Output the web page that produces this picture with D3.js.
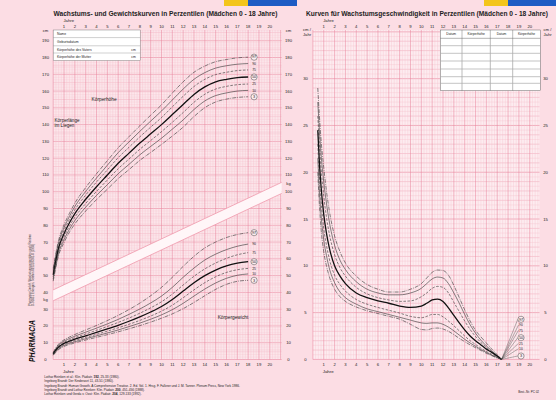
<!DOCTYPE html>
<html><head><meta charset="utf-8">
<script src="https://cdn.jsdelivr.net/npm/d3@7"></script>
<style>
body{margin:0;background:#fcdde4;}
svg{display:block;font-family:"Liberation Sans",Arial,sans-serif;}
</style>
</head><body>
<svg id="c" width="556" height="400"></svg>
<script>
// ---------- data ----------
const ages = [0,0.5,1,1.5,2,3,4,5,6,7,8,9,10,11,12,13,14,15,16,17,18];
const percentiles = ["97","90","75","50","25","10","3"];
const circled = ["97","50","3"];

const height97 = [54.3,71.0,80.3,87.1,93.2,102.5,110.7,118.5,126.2,132.8,139.3,145.6,151.8,158.8,165.5,171.2,174.9,177.5,178.8,179.8,180.2];
const height90 = [53.1,69.6,78.6,85.3,91.2,100.2,108.2,115.8,123.3,129.7,136.0,142.1,148.1,154.7,161.2,167.0,171.0,173.7,175.1,176.0,176.4];
const height75 = [51.9,68.1,76.9,83.5,89.2,98.0,105.8,113.0,120.3,126.5,132.7,138.5,144.2,150.6,156.9,162.7,167.0,169.8,171.2,172.2,172.6];
const height50 = [50.5,66.5,75.0,81.5,87.0,95.5,103.0,110.0,117.0,123.0,129.0,134.5,140.0,146.0,152.0,158.0,162.5,165.5,167.0,168.0,168.4];
const height25 = [49.2,64.9,73.1,79.5,84.8,93.0,100.2,107.0,113.7,119.5,125.3,130.5,135.8,141.4,147.2,153.3,158.1,161.2,162.8,163.8,164.2];
const height10 = [47.9,63.4,71.4,77.7,82.8,90.8,97.8,104.2,110.7,116.3,122.0,127.0,131.9,137.3,142.8,149.0,154.1,157.3,158.9,160.0,160.4];
const height3  = [46.7,62.0,69.7,75.9,80.8,88.5,95.3,101.5,107.8,113.2,118.7,123.4,128.2,133.2,138.5,144.8,150.1,153.5,155.2,156.2,156.6];

const weight97 = [4.3,9.2,11.7,13.4,14.9,17.6,20.3,23.2,26.3,29.8,33.6,38.0,43.0,49.0,55.5,61.5,66.5,70.0,72.7,74.5,75.6];
const weight90 = [4.0,8.6,11.0,12.5,13.9,16.3,18.7,21.2,23.9,26.9,30.1,33.7,37.8,43.0,49.0,54.5,59.3,62.8,65.5,67.5,68.8];
const weight75 = [3.7,8.0,10.3,11.7,13.0,15.2,17.4,19.7,22.1,24.7,27.6,30.8,34.4,39.0,44.4,49.6,54.0,57.5,60.3,62.4,63.7];
const weight50 = [3.4,7.4,9.6,10.9,12.1,14.1,16.1,18.2,20.4,22.8,25.4,28.3,31.6,35.8,40.8,45.8,50.0,53.3,55.8,57.4,58.3];
const weight25 = [3.1,6.9,9.0,10.2,11.3,13.2,15.0,16.9,18.9,21.0,23.3,25.9,28.8,32.4,36.8,41.5,45.8,49.3,51.9,53.5,54.3];
const weight10 = [2.8,6.4,8.4,9.6,10.6,12.4,14.1,15.8,17.6,19.6,21.7,24.0,26.6,29.7,33.5,37.8,42.0,45.6,48.4,50.2,51.0];
const weight3  = [2.5,5.9,7.8,8.9,9.9,11.6,13.2,14.8,16.5,18.3,20.2,22.3,24.6,27.2,30.3,34.0,38.0,41.8,44.8,46.6,47.2];

const velAges = [0.45,0.6,0.75,1,1.25,1.5,2,2.5,3,4,5,6,7,8,9,10,10.5,11,11.5,12,12.5,13,13.5,14,14.5,15,15.5,16,16.5,17,17.4];
const vel97 = [29,26,23.5,20.5,18,16,13.2,11.5,10.3,8.9,8.0,7.5,7.2,7.2,7.5,8.1,8.7,9.3,9.55,9.5,9.0,7.9,6.6,5.3,4.1,3.1,2.4,1.75,1.1,0.5,0];
const vel90 = [27.5,24.5,22,19,16.7,14.8,12.2,10.6,9.6,8.3,7.5,7.1,6.9,6.9,7.1,7.6,8.1,8.6,8.8,8.7,8.1,7.1,6.0,4.8,3.7,2.8,2.05,1.45,0.9,0.4,0];
const vel75 = [26,23,20.5,17.5,15.2,13.5,11.2,9.8,8.9,7.7,7.0,6.6,6.35,6.2,6.25,6.7,7.1,7.6,7.8,7.7,7.1,6.1,5.1,4.1,3.2,2.45,1.8,1.3,0.8,0.35,0];
const vel50 = [24.5,21,18.5,15.5,13.5,12,10,8.9,8.1,7.1,6.6,6.25,6.0,5.7,5.55,5.7,6.0,6.35,6.45,6.2,5.5,4.7,3.9,3.15,2.5,2.0,1.55,1.1,0.75,0.35,0];
const vel25 = [23,19.5,17,14,12.2,10.8,9.0,8.0,7.3,6.4,5.9,5.55,5.25,4.95,4.6,4.45,4.6,4.8,4.8,4.55,4.1,3.6,3.05,2.5,2.0,1.6,1.2,0.85,0.55,0.25,0];
const vel10 = [21.5,18,15.5,12.8,11.1,9.8,8.2,7.2,6.6,5.9,5.4,5.1,4.8,4.5,4.2,3.9,3.85,3.9,3.9,3.75,3.45,3.05,2.6,2.15,1.75,1.4,1.05,0.75,0.45,0.2,0];
const vel3  = [20,16.5,14,11.5,10,8.9,7.5,6.7,6.2,5.6,5.2,4.9,4.6,4.3,3.75,3.2,3.15,3.3,3.35,3.25,3.0,2.65,2.25,1.9,1.55,1.25,0.95,0.65,0.4,0.15,0];

const ageTickLabels = [1,2,3,4,5,6,7,8,9,10,11,12,13,14,15,16,17,18,19,20];
const leftCmTicks = [190,180,170,160,150,140,130,120,110,100,90,80,70,60,50];
const leftKgTicks = [40,30,20,10,0];
const rightCmTicks = [190,180,170,160,150,140,130,120,110];
const rightKgTicks = [100,90,80,70,60,50,40,30,20,10,0];
const velTicks = [30,25,20,15,10,5,0];
const bandLower = [[0,35.0],[21.1,99.0]];
const bandUpper = [[0,41.5],[21.1,105.6]];

const leftTable = ["Name","Geburtsdatum","Körperhöhe des Vaters","Körperhöhe der Mutter"];
const rightTableHead = ["Datum","Körperhöhe","Datum","Körperhöhe"];
const footnotes = [
  ["Lothar Reinken et al.: Klin. Pädiatr. ","192",", 25-33 (1980)."],
  ["Ingeborg Brandt: Der Kinderarzt 11, 43-51 (1980).","",""],
  ["Ingeborg Brandt: Human Growth. A Comprehensive Treatise. 2. Ed. Vol. 1. Hrsg. F. Falkner und J. M. Tanner. Plenum Press, New York 1986.","",""],
  ["Ingeborg Brandt und Lothar Reinken: Klin. Pädiatr. ","200",", 451-456 (1988)."],
  ["Lothar Reinken und Gerda v. Oost: Klin. Pädiatr. ","204",", 129-133 (1992)."]
];

// ---------- scales ----------
const xL = d3.scaleLinear().domain([0,21.1]).range([53.2,281.7]);
const yL = d3.scaleLinear().domain([0,196.4]).range([359.5,30]);
const xR = d3.scaleLinear().domain([0,20.9]).range([312.9,539.5]);
const yR = d3.scaleLinear().domain([0,35.2]).range([359.4,30]);

const svg = d3.select("#c");
svg.append("rect").attr("width",556).attr("height",400).attr("fill","#fcdde4");

// top colour bars
[[224,248,"#f3c51b"],[248,297,"#1d5cc4"],[484,508,"#f3c51b"],[508,556,"#1d5cc4"]].forEach(b=>{
  svg.append("rect").attr("x",b[0]).attr("y",0).attr("width",b[1]-b[0]).attr("height",6).attr("fill",b[2]);
});

function drawGrid(x,y,yMax,yStep,yMid,yMajor){
  const g = svg.append("g");
  const [x0,x1] = x.range(), [y0,y1] = [y(0), y(y.domain()[1])];
  g.append("rect").attr("x",x0).attr("y",y1).attr("width",x1-x0).attr("height",y0-y1).attr("fill","#fdecf0");
  const nH = Math.round(yMax/yStep);
  for(let i=0;i<=nH;i++){
    const v=i*yStep;
    const major = Math.abs(v/yMajor-Math.round(v/yMajor))<1e-6;
    const mid = Math.abs(v/yMid-Math.round(v/yMid))<1e-6;
    g.append("line").attr("x1",x0).attr("x2",x1).attr("y1",y(v)).attr("y2",y(v))
      .attr("stroke",major?"#e9869d":mid?"#f0a3b5":"#f5c0cc").attr("stroke-width",major?0.6:mid?0.45:0.35);
  }
  const xMax = x.domain()[1];
  for(let i=0;i*0.25<=xMax+1e-6;i++){
    const a=i*0.25;
    const major = i%4===0;
    g.append("line").attr("x1",x(a)).attr("x2",x(a)).attr("y1",y0).attr("y2",y1)
      .attr("stroke",major?"#e9869d":"#f5c0cc").attr("stroke-width",major?0.55:0.35);
  }
}
drawGrid(xL,yL,196,1,5,10);
drawGrid(xR,yR,35,0.5,1,5);

// band between height and weight
svg.append("path")
  .attr("d", d3.line()(bandUpper.map(p=>[xL(p[0]),yL(p[1])]).concat(bandLower.slice().reverse().map(p=>[xL(p[0]),yL(p[1])]))) + "Z")
  .attr("fill","#fff6f8").attr("stroke","none");
[bandUpper,bandLower].forEach(b=>{
  svg.append("path").attr("d",d3.line()(b.map(p=>[xL(p[0]),yL(p[1])])))
    .attr("stroke","#ee8ea4").attr("stroke-width",0.7).attr("fill","none");
});

// styles
function styleFor(p){
  if(p==="50") return {w:1.3,c:"#111",d:null};
  if(p==="97"||p==="3") return {w:0.6,c:"#333",d:"4,1.1,0.8,1.1"};
  if(p==="75"||p==="25") return {w:0.6,c:"#333",d:"2.6,1.5"};
  return {w:0.6,c:"#333",d:null};
}

const heightSeries = [height97,height90,height75,height50,height25,height10,height3];
const weightSeries = [weight97,weight90,weight75,weight50,weight25,weight10,weight3];
const velSeries = [vel97,vel90,vel75,vel50,vel25,vel10,vel3];

function drawCurves(series, xs, x, y){
  series.forEach((s,i)=>{
    const st = styleFor(percentiles[i]);
    const line = d3.line().x((d,j)=>x(xs[j])).y(d=>y(d)).curve(d3.curveMonotoneX);
    svg.append("path").attr("d",line(s)).attr("fill","none").attr("stroke",st.c)
      .attr("stroke-width",st.w).attr("stroke-dasharray",st.d);
  });
}
drawCurves(heightSeries,ages,xL,yL);
drawCurves(weightSeries,ages,xL,yL);
drawCurves(velSeries,velAges,xR,yR);

function pctLabel(p,cx,cy){
  const isC = circled.includes(p);
  if(isC){
    svg.append("circle").attr("cx",cx).attr("cy",cy).attr("r",3.1).attr("fill","#fdeef1").attr("stroke","#333").attr("stroke-width",0.45);
  }
  svg.append("text").attr("x",cx).attr("y",cy+1.3).attr("text-anchor","middle")
    .attr("font-size",isC?3.8:3.4).attr("fill","#222").text(p);
}
heightSeries.forEach((s,i)=>pctLabel(percentiles[i], xL(18.55), yL(s[s.length-1])));
weightSeries.forEach((s,i)=>pctLabel(percentiles[i], xL(18.55), yL(s[s.length-1])));

// velocity labels with leader lines
const velLabelY = [319.3,325,330.3,337.7,343.3,348.7,356];
const conv = [xR(velAges[velAges.length-1]), yR(0)];
percentiles.forEach((p,i)=>{
  const lx = 521, ly = velLabelY[i];
  svg.append("line").attr("x1",conv[0]).attr("y1",conv[1]).attr("x2",lx-(circled.includes(p)?3.2:2.5)).attr("y2",ly)
    .attr("stroke","#444").attr("stroke-width",0.4);
  pctLabel(p,lx,ly);
});

// ---------- text ----------
function txt(x,y,s,size,opt={}){
  const t = svg.append("text").attr("x",x).attr("y",y).attr("font-size",size).attr("fill",opt.fill||"#222")
    .attr("text-anchor",opt.anchor||"start").text(s);
  if(opt.bold) t.attr("font-weight","bold");
  if(opt.len) t.attr("textLength",opt.len).attr("lengthAdjust","spacingAndGlyphs");
  return t;
}
txt(53.5,16,"Wachstums- und Gewichtskurven in Perzentilen (Mädchen 0 - 18 Jahre)",6.4,{bold:true,len:224});
txt(306,16,"Kurven für Wachstumsgeschwindigkeit in Perzentilen (Mädchen 0 - 18 Jahre)",6.4,{bold:true,len:242});

// age tick labels
[[xL,"left"],[xR,"right"]].forEach(([x])=>{
  ageTickLabels.forEach(a=>{
    txt(x(a),28.3,a,4.2,{anchor:"middle"});
    txt(x(a),366,a,4.2,{anchor:"middle"});
  });
  txt(x(1)-0.5,21.5,"Jahre",4.2,{anchor:"start"});
  txt(x(1)-1,372.5,"Jahre",4.4,{anchor:"start"});
});

// left axis (cm + kg)
txt(45.5,31.5,"cm",4.2,{anchor:"middle"});
leftCmTicks.forEach(v=>txt(45.5,yL(v)+1.5,v,4.2,{anchor:"middle"}));
leftKgTicks.forEach(v=>txt(45.5,yL(v)+1.5,v,4.2,{anchor:"middle"}));
txt(45.5,yL(36)+1.5,"kg",4.2,{anchor:"middle"});
// middle axis
txt(288.5,31.5,"cm",4.2,{anchor:"middle"});
rightCmTicks.forEach(v=>txt(288.5,yL(v)+1.5,v,4.2,{anchor:"middle"}));
rightKgTicks.forEach(v=>txt(288.5,yL(v)+1.5,v,4.2,{anchor:"middle"}));
txt(288.5,yL(105)+1.5,"kg",4.2,{anchor:"middle"});
// velocity axes
velTicks.forEach(v=>{ txt(305.5,yR(v)+1.5,v,4.2,{anchor:"middle"}); txt(545.5,yR(v)+1.5,v,4.2,{anchor:"middle"}); });
[[303,"start"],[543.5,"start"]].forEach(([x])=>{ txt(x,31,"cm /",4.2); txt(x,35.5,"Jahr",4.2); });

// panel labels
txt(xL(4.7),yL(155)+1.5,"Körperhöhe",4.8,{anchor:"middle"});
txt(54.5,yL(141.5),"Körperlänge",4.6);
txt(54.5,yL(138.5),"im Liegen",4.6);
txt(xL(16.6),yL(25)+1.5,"Körpergewicht",4.8,{anchor:"middle"});

// left table
const lt = svg.append("g");
lt.append("rect").attr("x",53.2).attr("y",30).attr("width",87).attr("height",30.5).attr("fill","#fff").attr("stroke","#777").attr("stroke-width",0.45);
[37.6,45.8,53.0].forEach(yy=>lt.append("line").attr("x1",53.2).attr("x2",140.2).attr("y1",yy).attr("y2",yy).attr("stroke","#888").attr("stroke-width",0.4));
const ltY=[35.2,43.1,50.6,58.0];
leftTable.forEach((s,i)=>txt(57,ltY[i],s,3.4));
txt(133.5,50.6,"cm",3.4,{anchor:"middle"});
txt(133.5,58.0,"cm",3.4,{anchor:"middle"});

// right table
const rt = svg.append("g");
rt.append("rect").attr("x",440.3).attr("y",30).attr("width",100).attr("height",60.7).attr("fill","#fff").attr("stroke","#666").attr("stroke-width",0.5);
[462,490.3,512.7].forEach(xx=>rt.append("line").attr("x1",xx).attr("x2",xx).attr("y1",30).attr("y2",90.7).attr("stroke","#666").attr("stroke-width",0.45));
[38.3,45.7,53.3,61,69,76.7,83.3].forEach((yy,i)=>rt.append("line").attr("x1",440.3).attr("x2",540.3).attr("y1",yy).attr("y2",yy)
  .attr("stroke",i===0?"#666":"#aaa").attr("stroke-width",i===0?0.5:0.7));
const headX=[451.2,476.2,501.5,526.5];
rightTableHead.forEach((s,i)=>txt(headX[i],35.4,s,3.3,{anchor:"middle"}));

// footnotes
footnotes.forEach((f,i)=>{
  const t = svg.append("text").attr("x",44.3).attr("y",377.8+i*4.35).attr("font-size",3.15).attr("fill","#222");
  t.append("tspan").text(f[0]);
  if(f[1]) t.append("tspan").attr("font-weight","bold").text(f[1]);
  if(f[2]) t.append("tspan").text(f[2]);
});
txt(539,392.5,"Best.-Nr. PC 02",3.0,{anchor:"end"});

// vertical side texts
const side = svg.append("g").attr("transform","translate(30.5,306) rotate(-90)");
side.append("text").attr("x",0).attr("y",0).attr("font-size",2.9).attr("fill","#333").text("Pharmacia GmbH, Wachstumsperzentilen nach Reinken");
side.append("text").attr("x",0).attr("y",3.8).attr("font-size",2.9).attr("fill","#333").text("D-91051 Erlangen, Telefon 09131/6201-0 (1993)");
const logo = svg.append("g").attr("transform","translate(34.5,362) rotate(-90)");
logo.append("text").attr("x",0).attr("y",0).attr("font-size",8.5).attr("font-weight","bold").attr("font-style","italic")
  .attr("fill","#111").attr("textLength",42).attr("lengthAdjust","spacingAndGlyphs").text("PHARMACIA");
</script>
</body></html>
